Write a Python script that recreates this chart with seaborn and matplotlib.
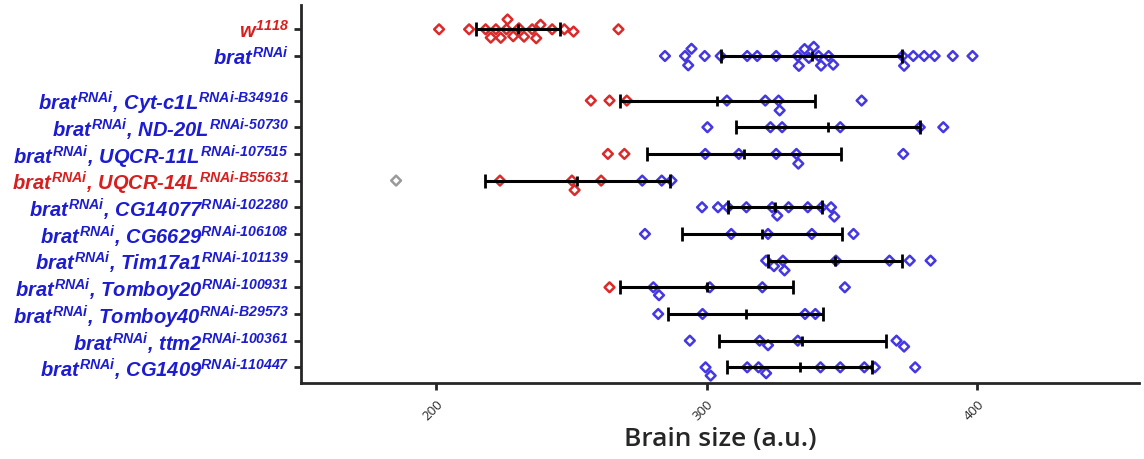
import pandas as pd
import matplotlib
matplotlib.use("Agg")
import matplotlib.pyplot as plt
import seaborn as sns

# genotypes, top to bottom
genes = ["w1118", "brat", "Cyt-c1L", "ND-20L", "UQCR-11L", "UQCR-14L", "CG14077",
         "CG6629", "Tim17a1", "Tomboy20", "Tomboy40", "ttm2", "CG1409"]
rnai_lines = ["", "", "B34916", "50730", "107515", "B55631", "102280",
              "106108", "101139", "100931", "B29573", "100361", "110447"]
label_kind = ["red", "blue", "blue", "blue", "blue", "red", "blue",
              "blue", "blue", "blue", "blue", "blue", "blue"]

# brain size of every brain (a.u.), split by dot colour
w1118_red = [201.1, 212.2, 218.3, 220.2, 222.1, 223.9, 226.0, 226.4, 228.5, 230.6,
             232.5, 235.5, 237.0, 238.6, 242.9, 247.4, 250.8, 267.4]
brat_blue = [284.6, 292.0, 293.2, 294.4, 299.3, 305.2, 315.0, 318.7, 325.7, 333.7,
             334.1, 336.2, 337.8, 339.6, 341.4, 342.3, 345.1, 346.8, 372.4, 373.0,
             376.4, 380.4, 384.3, 391.0, 398.3]
cyt_red = [257.2, 264.1, 270.5]
cyt_blue = [307.5, 321.7, 326.6, 327.0, 357.3]
nd20_blue = [300.3, 323.6, 327.9, 349.4, 378.8, 387.5]
uqcr11_red = [263.5, 269.6]
uqcr11_blue = [299.5, 311.9, 325.7, 333.2, 333.9, 372.7]
uqcr14_gray = [185.2]
uqcr14_red = [223.6, 250.2, 251.2, 261.0]
uqcr14_blue = [276.2, 283.4, 287.0]
cg14077_blue = [298.3, 304.2, 307.9, 314.7, 324.2, 326.1, 330.3, 337.4, 342.5, 346.0, 347.2]
cg6629_blue = [277.2, 309.1, 322.7, 338.9, 354.3]
tim17_blue = [322.0, 324.9, 328.2, 328.8, 347.8, 367.6, 375.1, 382.8]
tomboy20_red = [264.1]
tomboy20_blue = [280.3, 282.4, 301.2, 320.6, 351.1]
tomboy40_blue = [282.1, 298.5, 336.4, 340.2]
ttm2_blue = [293.8, 319.6, 322.7, 333.7, 370.2, 373.0]
cg1409_blue = [299.6, 301.5, 315.0, 319.2, 322.0, 342.1, 349.4, 358.3, 362.2, 377.1]

# mean +/- SD bars
mean_size = [230.2, 338.8, 304.0, 344.7, 313.8, 252.2, 325.2, 320.4, 347.4, 300.0, 314.4, 335.3, 334.5]
sd_size = [15.6, 33.6, 36.0, 34.0, 36.0, 34.2, 17.3, 29.5, 24.7, 32.0, 28.5, 30.9, 26.8]

groups = {
    "w1118": {"red": w1118_red},
    "brat": {"blue": brat_blue},
    "Cyt-c1L": {"red": cyt_red, "blue": cyt_blue},
    "ND-20L": {"blue": nd20_blue},
    "UQCR-11L": {"red": uqcr11_red, "blue": uqcr11_blue},
    "UQCR-14L": {"gray": uqcr14_gray, "red": uqcr14_red, "blue": uqcr14_blue},
    "CG14077": {"blue": cg14077_blue},
    "CG6629": {"blue": cg6629_blue},
    "Tim17a1": {"blue": tim17_blue},
    "Tomboy20": {"red": tomboy20_red, "blue": tomboy20_blue},
    "Tomboy40": {"blue": tomboy40_blue},
    "ttm2": {"blue": ttm2_blue},
    "CG1409": {"blue": cg1409_blue},
}

# row positions: a little extra space after the two controls
ypos = [i if i < 2 else i + 0.67 for i in range(len(genes))]

rows = []
for g, y in zip(genes, ypos):
    for kind, vals in groups[g].items():
        for v in vals:
            rows.append((v, y, kind))
df = pd.DataFrame(rows, columns=["size", "pos", "kind"])

palette = {"red": "#d92b2b", "blue": "#4438e0", "gray": "#9a9a9a"}
label_colors = {"red": "#d62020", "blue": "#1c1cd0"}

sns.set_style("ticks")
plt.rcParams["mathtext.fontset"] = "custom"
plt.rcParams["mathtext.it"] = "Liberation Sans:bold:italic"
plt.rcParams["mathtext.rm"] = "Liberation Sans:bold:italic"
plt.rcParams["mathtext.bf"] = "Liberation Sans:bold:italic"

fig = plt.figure(figsize=(11.44, 4.59), dpi=100)
ax = fig.add_axes([0.263, 0.166, 0.733, 0.823])

sns.swarmplot(data=df, x="size", y="pos", hue="kind", orient="h", native_scale=True,
              palette=palette, marker="D", size=5, legend=False, ax=ax, zorder=3)
for coll in ax.collections:
    fc = coll.get_facecolors()
    coll.set_edgecolors(fc)
    coll.set_facecolors("none")
    coll.set_linewidths(1.8)

ax.errorbar(mean_size, ypos, xerr=sd_size, fmt="|", color="black", ms=7, mew=2,
            elinewidth=2.2, capsize=5, capthick=2.6, zorder=5)

labels = []
for g, line in zip(genes, rnai_lines):
    if g == "w1118":
        labels.append(r"$w^{1118}$")
    elif line == "":
        labels.append(r"$brat^{RNAi}$")
    else:
        name = g.replace("-", r"\text{-}")
        labels.append(r"$brat^{RNAi}$, $" + name + r"^{RNAi\text{-}" + line + "}$")

ax.set_yticks(ypos)
ax.set_yticklabels(labels, fontsize=14.5, fontfamily="Liberation Sans",
                   fontweight="bold", fontstyle="italic")
for t, k in zip(ax.get_yticklabels(), label_kind):
    t.set_color(label_colors[k])

ax.set_ylim(13.25, -0.91)
ax.set_xlim(150, 460)
ax.set_xticks([200, 300, 400])
ax.set_xticklabels(["200", "300", "400"], rotation=45, ha="right",
                   rotation_mode="anchor", fontsize=9.5, fontfamily="Open Sans")
ax.set_xlabel("Brain size (a.u.)", fontsize=19, fontfamily="Open Sans",
              fontweight="semibold", labelpad=3)
ax.set_ylabel("")

sns.despine(ax=ax)
for s in ["left", "bottom"]:
    ax.spines[s].set_linewidth(2)
ax.tick_params(axis="both", width=2, length=5, direction="out")
ax.tick_params(axis="x", pad=6)

fig.savefig("out.png", dpi=100)
